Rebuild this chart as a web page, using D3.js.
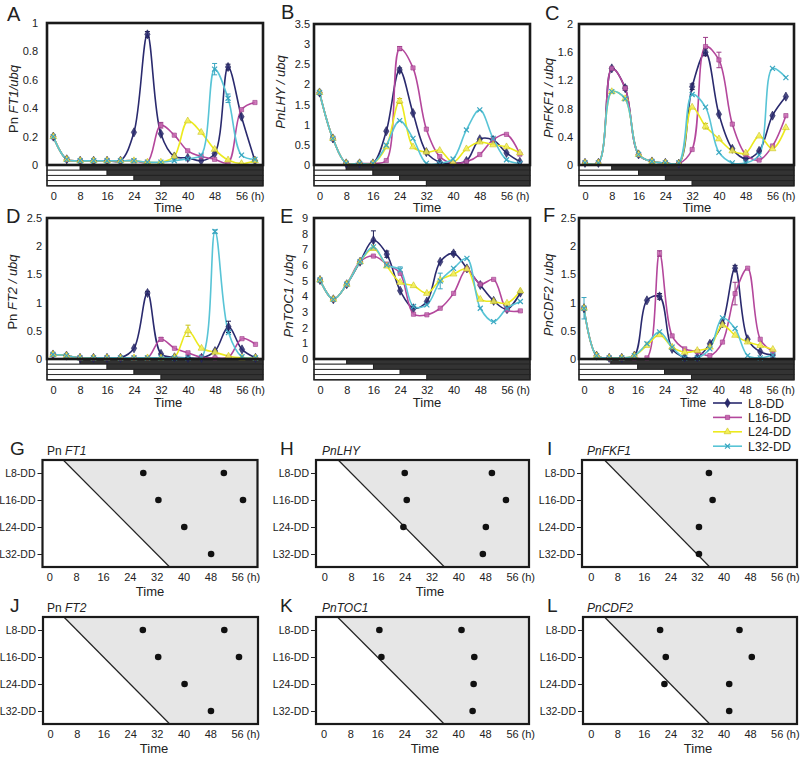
<!DOCTYPE html>
<html><head><meta charset="utf-8">
<script src="https://cdn.jsdelivr.net/npm/d3@7/dist/d3.min.js"></script>
<style>
body{margin:0;background:#fff;}
svg text{font-family:"Liberation Sans",Arial,Helvetica,sans-serif;fill:#222;}
</style></head><body>
<svg id="chart" width="800" height="760"></svg>
<script>
// ---------------- data ----------------
const hours = [0,4,8,12,16,20,24,28,32,36,40,44,48,52,56,60];
const hoursCDF2 = [0,3.75,7.5,11.25,15,18.75,22.5,26.25,30,33.75,37.5,41.25,45,48.75,52.5,56.25];
const xTicks = [0,8,16,24,32,40,48,56];
const seriesNames = ["L8-DD","L16-DD","L24-DD","L32-DD"];
const lightHours = [8,16,24,32];
const seriesColors = ["#2a2a6e","#b4479c","#ecea1e","#58c4d6"];

// A  Pn FT1
const ft1_L8  = [0.20,0.04,0.03,0.03,0.03,0.03,0.23,0.92,0.22,0.06,0.05,0.03,0.08,0.69,0.34,0.03];
const ft1_L16 = [0.20,0.04,0.03,0.03,0.03,0.03,0.03,0.02,0.28,0.21,0.10,0.06,0.04,0.015,0.39,0.44];
const ft1_L24 = [0.20,0.04,0.03,0.03,0.03,0.03,0.03,0.02,0.02,0.06,0.31,0.23,0.11,0.035,0.01,0.03];
const ft1_L32 = [0.20,0.04,0.03,0.03,0.03,0.03,0.03,0.02,0.02,0.03,0.045,0.07,0.675,0.47,0.07,0.04];
const ft1_err = [[0,7,0.02],[3,12,0.04],[0,13,0.02],[3,13,0.03],[1,8,0.02]];
const ft1_ticks = [0,0.2,0.4,0.6,0.8,1];

// B  PnLHY
const lhy_L8  = [1.80,0.66,0.04,0.04,0.04,0.84,2.36,1.29,0.32,0.07,0.04,0.10,0.64,0.62,0.30,0.08];
const lhy_L16 = [1.80,0.66,0.04,0.04,0.04,0.11,2.89,2.41,0.89,0.21,0.04,0.08,0.26,0.63,0.76,0.27];
const lhy_L24 = [1.80,0.66,0.04,0.04,0.04,0.45,1.59,0.45,0.32,0.36,0.07,0.40,0.57,0.50,0.45,0.30];
const lhy_L32 = [1.80,0.66,0.04,0.04,0.04,0.49,1.10,0.66,0.04,0.04,0.15,0.87,1.37,0.66,0.13,0.04];
const lhy_err = [[1,6,0.05],[2,6,0.06],[0,6,0.05]];
const lhy_ticks = [0,0.5,1,1.5,2,2.5,3,3.5];

// C  PnFKF1
const fkf1_L8  = [0.03,0.03,1.37,1.09,0.15,0.05,0.03,0.02,1.11,1.60,0.72,0.23,0.09,0.20,0.70,0.97];
const fkf1_L16 = [0.03,0.03,1.37,1.09,0.15,0.05,0.03,0.02,0.22,1.68,1.49,0.58,0.15,0.07,0.27,0.70];
const fkf1_L24 = [0.03,0.03,1.04,0.94,0.15,0.05,0.03,0.02,0.82,0.55,0.37,0.20,0.17,0.41,0.23,0.53];
const fkf1_L32 = [0.03,0.03,1.04,0.94,0.15,0.05,0.03,0.03,1.00,0.82,0.18,0.03,0.03,0.14,1.37,1.24];
const fkf1_err = [[1,9,0.13],[1,10,0.11],[0,9,0.05],[0,8,0.04],[0,3,0.03],[2,9,0.04]];
const fkf1_ticks = [0,0.4,0.8,1.2,1.6,2];

// D  Pn FT2
const ft2_L8  = [0.08,0.06,0.02,0.02,0.02,0.02,0.19,1.17,0.09,0.03,0.02,0.02,0.14,0.57,0.17,0.02];
const ft2_L16 = [0.08,0.06,0.02,0.02,0.02,0.02,0.02,0.02,0.35,0.19,0.11,0.03,0.02,0.03,0.36,0.26];
const ft2_L24 = [0.08,0.06,0.02,0.02,0.02,0.02,0.02,0.02,0.02,0.03,0.50,0.19,0.12,0.05,0.02,0.02];
const ft2_L32 = [0.08,0.06,0.02,0.02,0.02,0.02,0.02,0.02,0.02,0.02,0.02,0.03,2.26,0.47,0.04,0.02];
const ft2_err = [[2,10,0.1],[0,13,0.1],[3,12,0.03],[0,7,0.03],[1,8,0.03]];
const ft2_ticks = [0,0.5,1,1.5,2,2.5];

// E  PnTOC1
const toc1_L8  = [5.04,3.81,4.77,6.21,7.58,6.69,4.36,3.24,3.67,6.21,6.74,5.78,4.72,3.71,3.18,4.24];
const toc1_L16 = [5.04,3.81,4.77,6.21,6.57,6.06,5.47,2.86,2.82,3.24,4.19,5.74,4.77,5.08,3.14,3.07];
const toc1_L24 = [5.04,3.81,4.77,6.21,7.05,5.93,4.89,4.68,4.19,5.04,5.42,5.74,3.81,3.67,3.56,4.34];
const toc1_L32 = [5.04,3.81,4.77,6.21,7.16,6.00,5.68,3.35,3.45,4.98,5.78,6.42,3.24,2.39,3.24,3.67];
const toc1_err = [[0,4,0.6],[0,5,0.2],[3,9,0.5],[0,10,0.1],[3,6,0.2]];
const toc1_ticks = [0,1,2,3,4,5,6,7,8,9];

// F  PnCDF2
const cdf2_L8  = [0.90,0.06,0.02,0.02,0.06,1.04,1.11,0.18,0.03,0.03,0.27,0.63,1.61,0.35,0.13,0.07];
const cdf2_L16 = [0.90,0.06,0.02,0.02,0.02,0.02,1.87,0.41,0.18,0.13,0.06,0.30,1.16,1.61,0.35,0.13];
const cdf2_L24 = [0.90,0.06,0.02,0.02,0.06,0.24,0.43,0.21,0.12,0.15,0.21,0.60,0.42,0.30,0.24,0.17];
const cdf2_L32 = [0.90,0.06,0.02,0.02,0.06,0.27,0.48,0.21,0.02,0.02,0.18,0.73,0.54,0.06,0.02,0.07];
const cdf2_err = [[3,0,0.19],[1,6,0.05],[1,12,0.2],[0,12,0.05],[0,6,0.05]];
const cdf2_ticks = [0,0.5,1,1.5,2,2.5];

// G-L  peak phases (h) per row L8, L16, L24, L32
const phaseFT1  = [[28,52],[32.5,57.7],[40.2],[48.2]];
const phaseLHY  = [[24,50],[24.6,54.2],[23.6,48.2],[47.3]];
const phaseFKF1 = [[35.6],[36.7],[32.6],[32.6]];
const phaseFT2  = [[27.8,52.2],[32.4,56.6],[40.3],[48.2]];
const phaseTOC1 = [[16.6,41],[17.2,44.8],[44.6],[44.3]];
const phaseCDF2 = [[20.9,44.8],[22.6,48.5],[22.2,41.7],[41.7]];

// ---------------- layout ----------------
const svg = d3.select("#chart");
const barH = 5.2;

const tcPanels = [
 {letter:"A", lx:7, ly:21, title:[["Pn ",false],["FT1/ubq",true]], tx:13, ty:99, pad:9,
  series:[ft1_L8,ft1_L16,ft1_L24,ft1_L32], times:hours, err:ft1_err, ticks:ft1_ticks,
  left:47, right:263, top:23, zero:165, x0:53.3, x56:241.5, timeX:168, timeY:212},
 {letter:"B", lx:281, ly:19, title:[["PnLHY / ubq",true]], tx:280, ty:92, pad:4,
  series:[lhy_L8,lhy_L16,lhy_L24,lhy_L32], times:hours, err:lhy_err, ticks:lhy_ticks,
  left:314, right:530, top:24, zero:165, x0:319.5, x56:506.5, timeX:427, timeY:212},
 {letter:"C", lx:545, ly:20, title:[["PnFKF1 / ubq",true]], tx:548, ty:98, pad:6,
  series:[fkf1_L8,fkf1_L16,fkf1_L24,fkf1_L32], times:hours, err:fkf1_err, ticks:fkf1_ticks,
  left:579, right:794, top:24, zero:165, x0:585, x56:772.5, timeX:697, timeY:212},
 {letter:"D", lx:6, ly:223, title:[["Pn ",false],["FT2 / ubq",true]], tx:12, ty:292, pad:5,
  series:[ft2_L8,ft2_L16,ft2_L24,ft2_L32], times:hours, err:ft2_err, ticks:ft2_ticks,
  left:47, right:263, top:218, zero:359, x0:53, x56:242, timeX:168, timeY:407},
 {letter:"E", lx:280, ly:223, title:[["PnTOC1 / ubq",true]], tx:288, ty:296, pad:6,
  series:[toc1_L8,toc1_L16,toc1_L24,toc1_L32], times:hours, err:toc1_err, ticks:toc1_ticks,
  left:314, right:530, top:218, zero:359, x0:320, x56:507, timeX:427, timeY:407},
 {letter:"F", lx:543, ly:222, title:[["PnCDF2 / ubq",true]], tx:548, ty:295, pad:3,
  series:[cdf2_L8,cdf2_L16,cdf2_L24,cdf2_L32], times:hoursCDF2, err:cdf2_err, ticks:cdf2_ticks,
  left:579, right:794, top:218, zero:359, x0:584, x56:772, timeX:null, timeY:407}
];

const phPanels = [
 {letter:"G", lx:10, title:[["Pn ",false],["FT1",true]], titleX:47, data:phaseFT1,
  left:42.5, right:257.5, top:460, x0:49.3, x56:237.3, timeX:150},
 {letter:"H", lx:280, title:[["PnLHY",true]], titleX:322, data:phaseLHY,
  left:316, right:529, top:460, x0:324.3, x56:512, timeX:430},
 {letter:"I", lx:547, title:[["PnFKF1",true]], titleX:587, data:phaseFKF1,
  left:582, right:797, top:460, x0:590.7, x56:776.7, timeX:null},
 {letter:"J", lx:10, title:[["Pn ",false],["FT2",true]], titleX:47, data:phaseFT2,
  left:43, right:258, top:617, x0:50, x56:237, timeX:154},
 {letter:"K", lx:280, title:[["PnTOC1",true]], titleX:322, data:phaseTOC1,
  left:316, right:529, top:617, x0:323.5, x56:512, timeX:425},
 {letter:"L", lx:547, title:[["PnCDF2",true]], titleX:587, data:phaseCDF2,
  left:583, right:797, top:617, x0:590.7, x56:776.7, timeX:698}
];

const symbols = [d3.symbolDiamond, d3.symbolSquare, d3.symbolTriangle, d3.symbolTimes];
const symSize = [24, 18, 20, 18];
const markFill = ["#2a2a6e","#c766b0","#f3ef5a","none"];
const markStroke = ["#1e1e55","#9c3a88","#c9c31a","#3aa6c0"];

function addRichText(sel, parts){
  parts.forEach(([t,it])=>{
    sel.append("tspan").text(t).attr("font-style", it ? "italic" : "normal");
  });
}

tcPanels.forEach((p,pi)=>{
  const g = svg.append("g");
  const x = d3.scaleLinear().domain([0,56]).range([p.x0,p.x56]);
  const y = d3.scaleLinear().domain([0,d3.max(p.ticks)]).range([p.zero,p.top]);
  const clipId = "clip"+pi;
  svg.append("clipPath").attr("id",clipId).append("rect")
    .attr("x",p.left).attr("y",p.top).attr("width",p.right-p.left).attr("height",p.zero-p.top);

  // light/dark bars
  lightHours.forEach((L,i)=>{
    const yy = p.zero + i*barH;
    g.append("rect").attr("x",p.left).attr("y",yy).attr("width",x(L)-p.left).attr("height",barH)
      .attr("fill","#fff").attr("stroke","#222").attr("stroke-width",0.9);
    g.append("rect").attr("x",x(L)).attr("y",yy).attr("width",p.right-x(L)).attr("height",barH)
      .attr("fill","#333").attr("stroke","#222").attr("stroke-width",0.9);
  });
  g.append("rect").attr("x",p.left).attr("y",p.zero).attr("width",p.right-p.left).attr("height",barH*4)
    .attr("fill","none").attr("stroke","#222").attr("stroke-width",1.4);

  // series
  const line = d3.line().x(d=>x(d[0])).y(d=>y(d[1])).curve(d3.curveCatmullRom.alpha(0.5));
  const sg = g.append("g").attr("clip-path",`url(#${clipId})`);
  p.series.forEach((vals,si)=>{
    const pts = vals.map((v,k)=>[p.times[k],v]);
    sg.append("path").attr("d",line(pts)).attr("fill","none")
      .attr("stroke",seriesColors[si]).attr("stroke-width",1.6);
  });
  // error bars
  p.err.forEach(([si,k,e])=>{
    const v = p.series[si][k], xx = x(p.times[k]);
    const c = markStroke[si];
    g.append("line").attr("x1",xx).attr("x2",xx).attr("y1",y(v-e)).attr("y2",y(v+e)).attr("stroke",c).attr("stroke-width",1);
    [v-e,v+e].forEach(b=>g.append("line").attr("x1",xx-2.5).attr("x2",xx+2.5).attr("y1",y(b)).attr("y2",y(b)).attr("stroke",c).attr("stroke-width",1));
  });
  // markers
  p.series.forEach((vals,si)=>{
    g.append("g").selectAll("path").data(vals.map((v,k)=>[p.times[k],v])).join("path")
      .attr("transform",d=>`translate(${x(d[0])},${y(d[1])})`)
      .attr("d",d3.symbol(symbols[si],symSize[si]))
      .attr("fill",markFill[si]).attr("fill-opacity",0.85)
      .attr("stroke",markStroke[si]).attr("stroke-width",si===3?1.2:0.6);
  });

  // frame
  g.append("rect").attr("x",p.left).attr("y",p.top).attr("width",p.right-p.left).attr("height",p.zero-p.top)
    .attr("fill","none").attr("stroke","#1a1a1a").attr("stroke-width",2.6);

  // y axis
  const ya = g.append("g").attr("transform",`translate(${p.left},0)`)
    .call(d3.axisLeft(y).tickValues(p.ticks).tickSize(0).tickPadding(p.pad).tickFormat(d=>String(d)));
  ya.select(".domain").remove();
  ya.selectAll("text").attr("font-size",11).attr("fill","#222");

  // x axis
  const xa = g.append("g").attr("transform",`translate(0,${p.zero+barH*4})`)
    .call(d3.axisBottom(x).tickValues(xTicks).tickSize(0).tickPadding(6).tickFormat(d=>String(d)));
  xa.select(".domain").remove();
  xa.selectAll("text").attr("font-size",11).attr("fill","#222");
  g.append("text").attr("x",x(56)+9.5).attr("y",p.zero+barH*4+6).attr("dy","0.71em")
    .attr("font-size",11).text("(h)");

  if(p.timeX!==null){
    g.append("text").attr("x",p.timeX).attr("y",p.timeY).attr("text-anchor","middle")
      .attr("font-size",13).text("Time");
  }
  // letter
  g.append("text").attr("x",p.lx).attr("y",p.ly).attr("font-size",20).text(p.letter);
  // y title
  const yt = g.append("text").attr("transform",`translate(${p.tx+4.5},${p.ty}) rotate(-90)`)
    .attr("text-anchor","middle").attr("font-size",13);
  addRichText(yt,p.title);
});

// legend
const lg = svg.append("g");
lg.append("text").attr("x",680).attr("y",407).attr("font-size",12).text("Time");
seriesNames.forEach((n,i)=>{
  const yy = 403 + i*14.4;
  lg.append("line").attr("x1",713).attr("x2",742).attr("y1",yy).attr("y2",yy)
    .attr("stroke",seriesColors[i]).attr("stroke-width",1.6);
  lg.append("path").attr("transform",`translate(727.5,${yy})`).attr("d",d3.symbol(symbols[i],symSize[i]))
    .attr("fill",markFill[i]).attr("stroke",markStroke[i]).attr("stroke-width",i===3?1.2:0.6);
  lg.append("text").attr("x",748).attr("y",yy+4.5).attr("font-size",12.5).text(n);
});

// phase panels
const phH = 107;
phPanels.forEach(p=>{
  const g = svg.append("g");
  const x = d3.scaleLinear().domain([0,56]).range([p.x0,p.x56]);
  const bottom = p.top + phH;
  const yRow = d3.scaleLinear().domain([8,32]).range([p.top+13,p.top+94]);
  const hTop = yRow.invert(p.top), hBot = yRow.invert(bottom);
  g.append("path").attr("d",d3.line()([[x(hTop),p.top],[p.right,p.top],[p.right,bottom],[x(hBot),bottom]]))
    .attr("fill","#e6e6e6");
  g.append("line").attr("x1",x(hTop)).attr("y1",p.top).attr("x2",x(hBot)).attr("y2",bottom)
    .attr("stroke","#222").attr("stroke-width",1.2);
  // dots
  p.data.forEach((arr,ri)=>{
    arr.forEach(h=>{
      g.append("circle").attr("cx",x(h)).attr("cy",yRow(lightHours[ri])).attr("r",3.3).attr("fill","#111");
    });
  });
  g.append("rect").attr("x",p.left).attr("y",p.top).attr("width",p.right-p.left).attr("height",phH)
    .attr("fill","none").attr("stroke","#1a1a1a").attr("stroke-width",2.2);
  // row axis
  const ya = g.append("g").attr("transform",`translate(${p.left},0)`)
    .call(d3.axisLeft(yRow).tickValues(lightHours).tickSize(5).tickPadding(2).tickFormat((d,i)=>seriesNames[i]));
  ya.select(".domain").remove();
  ya.selectAll("line").attr("stroke","#222").attr("stroke-width",1);
  ya.selectAll("text").attr("font-size",10.5).attr("fill","#222");
  // x axis
  const xa = g.append("g").attr("transform",`translate(0,${bottom})`)
    .call(d3.axisBottom(x).tickValues(xTicks).tickSize(0).tickPadding(6).tickFormat(d=>String(d)));
  xa.select(".domain").remove();
  xa.selectAll("text").attr("font-size",11).attr("fill","#222");
  g.append("text").attr("x",x(56)+9.5).attr("y",bottom+6).attr("dy","0.71em").attr("font-size",11).text("(h)");
  if(p.timeX!==null){
    g.append("text").attr("x",p.timeX).attr("y",bottom+29).attr("text-anchor","middle").attr("font-size",13).text("Time");
  }
  g.append("text").attr("x",p.lx).attr("y",p.top-5).attr("font-size",19).text(p.letter);
  const t = g.append("text").attr("x",p.titleX).attr("y",p.top-5).attr("font-size",12);
  addRichText(t,p.title);
});
</script>
</body></html>
